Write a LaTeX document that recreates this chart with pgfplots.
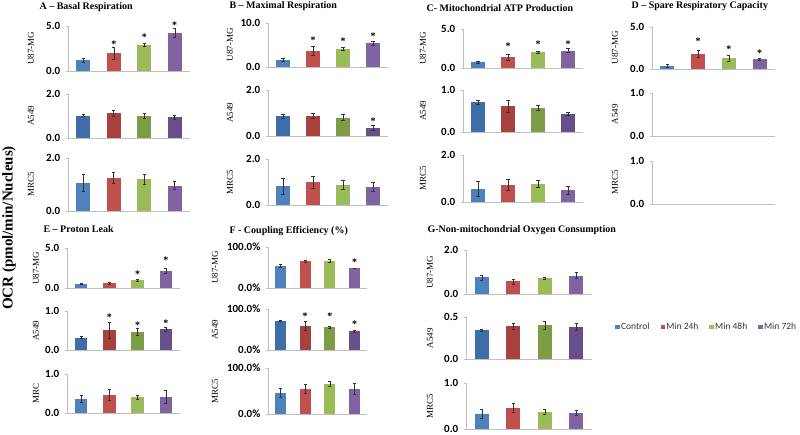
\documentclass[border=0pt]{standalone}
\usepackage{fontspec}
\setmainfont{Liberation Serif}
\newfontfamily\calibri{Carlito}
\usepackage{pgfplots}
\pgfplotsset{compat=1.18}

\definecolor{la}{HTML}{4F81BD}
\definecolor{lb}{HTML}{C0504D}
\definecolor{lc}{HTML}{9BBB59}
\definecolor{ld}{HTML}{8064A2}
\definecolor{da}{HTML}{3E6DAA}
\definecolor{db}{HTML}{A8403D}
\definecolor{dc}{HTML}{7E9B46}
\definecolor{dd}{HTML}{665089}
\definecolor{axc}{HTML}{BFBFBF}

\newcommand{\tickfont}{\calibri\bfseries\fontsize{11}{12}\selectfont}

\pgfplotsset{
  osub/.style={scale only axis, anchor=south west, xmin=0.5, xmax=4.5, ymin=0, clip=false,
    axis x line*=bottom, axis y line*=left, axis line style={draw=axc, line width=0.6pt, -},
    xtick=\empty, tick align=outside, major tick length=2.5pt,
    ytick style={draw=axc, line width=0.6pt},
    /pgf/number format/assume math mode=true,
    yticklabel style={font=\tickfont, inner sep=1pt, xshift=-4pt},
    ylabel style={font=\fontsize{9}{10}\selectfont, anchor=center}},
  obar/.style={ybar, bar width=0.45, bar shift=0pt, draw=none, fill=#1,
    legend image code/.code={\fill (0pt,-2.4pt) rectangle (4.8pt,2.4pt);},
    error bars/.cd, y dir=both, y explicit,
    error bar style={draw=black!80, line width=0.5pt},
    error mark options={rotate=90, mark size=1.6pt, draw=black!80, line width=0.5pt}},
  ostar/.style={only marks, mark=*, mark size=0.01pt, mark options={draw=none, fill=none},
    nodes near coords={\bfseries *},
    every node near coord/.append style={font=\fontsize{10}{10}\selectfont, anchor=center, inner sep=0pt, yshift=-1.5pt}}
}

% x, y, width, height (pt), ymax, tick label suffix, row label, label offset, plots
\newcommand{\sub}[9]{%
  \begin{axis}[osub, at={(#1pt,#2pt)}, width=#3pt, height=#4pt, ymax=#5,
    ytick={#5},
    yticklabel={\pgfmathprintnumber[fixed,fixed zerofill,precision=1]{\tick}#6},
    ylabel={#7},
    ylabel style={at={([xshift=-#8pt]axis description cs:0,0.5)}}]
  #9
  \end{axis}}

\newcommand{\bars}[9]{%
  \addplot[obar=#1a] coordinates {(1,#2) +- (0,#3)};
  \addplot[obar=#1b] coordinates {(2,#4) +- (0,#5)};
  \addplot[obar=#1c] coordinates {(3,#6) +- (0,#7)};
  \addplot[obar=#1d] coordinates {(4,#8) +- (0,#9)};}

\newcommand{\stars}[1]{\addplot[ostar] coordinates {#1};}

\begin{document}
\begin{tikzpicture}
\path[use as bounding box] (0,0) rectangle (800pt,434pt);

\begin{scope}[every node/.style={anchor=west, font=\bfseries\fontsize{10}{12}\selectfont}]
\node at (36pt,427pt) {A – Basal Respiration};
\node at (226pt,428pt) {B – Maximal Respiration};
\node at (423pt,426pt) {C- Mitochondrial ATP Production};
\node at (628pt,428pt) {D – Spare Respiratory Capacity};
\node at (40pt,205pt) {E – Proton Leak};
\node at (226pt,203pt) {F - Coupling Efficiency (\%)};
\node at (424pt,204pt) {G-Non-mitochondrial Oxygen Consumption};
\end{scope}
\node[rotate=90, font=\bfseries\fontsize{15}{17}\selectfont] at (9pt,206pt) {OCR (pmol/min/Nucleus)};

% A - Basal Respiration
\sub{68}{363}{122}{45}{5}{}{U87-MG}{37}{\bars{l}{1.22}{0.25}{1.96}{0.7}{2.9}{0.15}{4.26}{0.5}
  \stars{(2,3.15) (3,3.9) (4,5.3)}}
\sub{68}{296}{122}{44}{2}{}{A549}{37}{\bars{d}{1.02}{0.04}{1.13}{0.13}{1.02}{0.12}{0.95}{0.1}}
\sub{68}{223}{122}{53}{2}{}{MRC5}{37}{\bars{l}{1.06}{0.32}{1.26}{0.22}{1.19}{0.18}{0.96}{0.15}}

% B - Maximal Respiration
\sub{268}{367}{120}{44}{10}{}{U87-MG}{38}{\bars{l}{1.64}{0.3}{3.66}{1.0}{4.1}{0.3}{5.4}{0.4}
  \stars{(2,6.5) (3,6.3) (4,7.4)}}
\sub{268}{298}{120}{46}{2}{}{A549}{38}{\bars{d}{0.87}{0.08}{0.87}{0.12}{0.8}{0.13}{0.36}{0.1}
  \stars{(4,0.7)}}
\sub{268}{229}{120}{46}{2}{}{MRC5}{38}{\bars{l}{0.83}{0.35}{0.98}{0.25}{0.88}{0.2}{0.8}{0.2}}

% C - Mitochondrial ATP Production
\sub{463}{366}{120}{39}{5}{}{U87-MG}{40}{\bars{l}{0.73}{0.15}{1.37}{0.4}{2.05}{0.1}{2.22}{0.25}
  \stars{(2,3.0) (3,3.2) (4,3.3)}}
\sub{463}{302}{120}{42}{1}{}{A549}{40}{\bars{d}{0.71}{0.04}{0.61}{0.15}{0.57}{0.06}{0.43}{0.04}}
\sub{463}{232}{120}{47}{2}{}{MRC5}{40}{\bars{l}{0.57}{0.32}{0.74}{0.22}{0.76}{0.15}{0.5}{0.18}}

% D - Spare Respiratory Capacity
\sub{652}{365}{123}{42}{5}{}{U87-MG}{37}{\bars{l}{0.39}{0.15}{1.8}{0.45}{1.29}{0.35}{1.17}{0.12}
  \stars{(2,3.5) (3,2.54) (4,2.0)}}
\sub{652}{298}{123}{43}{1}{}{A549}{37}{}
\sub{652}{230}{123}{43}{1}{}{MRC5}{37}{}

% E - Proton Leak
\sub{67}{146}{113}{40}{5}{}{U87-MG}{31}{\bars{l}{0.5}{0.05}{0.6}{0.15}{0.97}{0.1}{2.16}{0.3}
  \stars{(3,1.95) (4,3.7)}}
\sub{67}{84}{113}{39}{1}{}{A549}{31}{\bars{d}{0.32}{0.02}{0.51}{0.2}{0.47}{0.08}{0.53}{0.06}
  \stars{(2,0.88) (3,0.68) (4,0.73)}}
\sub{67}{21}{113}{39}{1}{}{MRC}{31}{\bars{l}{0.36}{0.09}{0.47}{0.15}{0.4}{0.06}{0.41}{0.17}}

% F - Coupling Efficiency
\sub{268}{146}{99}{41}{100}{\%}{U87-MG}{53}{\bars{l}{54}{3}{65}{2}{66}{4}{48}{1}
  \stars{(4,67)}}
\sub{268}{84}{99}{41}{100}{\%}{A549}{53}{\bars{d}{71}{1}{59}{10}{55}{2}{46}{1.5}
  \stars{(2,85) (3,85) (4,67)}}
\sub{268}{20}{99}{46}{100}{\%}{MRC5}{53}{\bars{l}{46}{9}{55}{9}{66}{5}{55}{11}}

% G - Non-mitochondrial Oxygen Consumption
\sub{466}{140}{126}{44}{2}{}{U87-MG}{36}{\bars{l}{0.75}{0.12}{0.57}{0.12}{0.72}{0.04}{0.84}{0.14}}
\sub{466}{75}{126}{42}{0.5}{}{A549}{36}{\bars{d}{0.344}{0.01}{0.39}{0.04}{0.40}{0.045}{0.383}{0.04}}
\begin{axis}[osub, at={(466pt,5pt)}, width=126pt, height=46pt, ymax=1,
  ytick={1},
  yticklabel={\pgfmathprintnumber[fixed,fixed zerofill,precision=1]{\tick}},
  ylabel={MRC5},
  ylabel style={at={([xshift=-36pt]axis description cs:0,0.5)}},
  legend style={at={(axis description cs:1.159,2.217)}, anchor=west, draw=none, fill=none,
    legend columns=4, font=\calibri\fontsize{9.5}{10}\selectfont, text=black!80,
    /tikz/every even column/.append style={column sep=10pt}, nodes={inner sep=1pt}}]
\bars{l}{0.33}{0.09}{0.46}{0.09}{0.38}{0.05}{0.35}{0.06}
\legend{Control,Min 24h,Min 48h,Min 72h}
\end{axis}

% zero labels of every small axis, set last
\foreach \x/\y/\s in {68/363/, 68/296/, 68/223/, 268/367/, 268/298/, 268/229/,
    463/366/, 463/302/, 463/232/, 652/365/, 652/298/, 652/230/,
    67/146/, 67/84/, 67/21/, 268/146/\%, 268/84/\%, 268/20/\%,
    466/140/, 466/75/, 466/5/} {
  \draw[axc, line width=0.6pt] (\x pt,\y pt) -- ++(-2.5pt,0);
  \node[anchor=east, font=\tickfont, text=black, inner sep=1pt] at ({\x pt-6.5pt},\y pt) {0.0\s};
}
\end{tikzpicture}
\end{document}
